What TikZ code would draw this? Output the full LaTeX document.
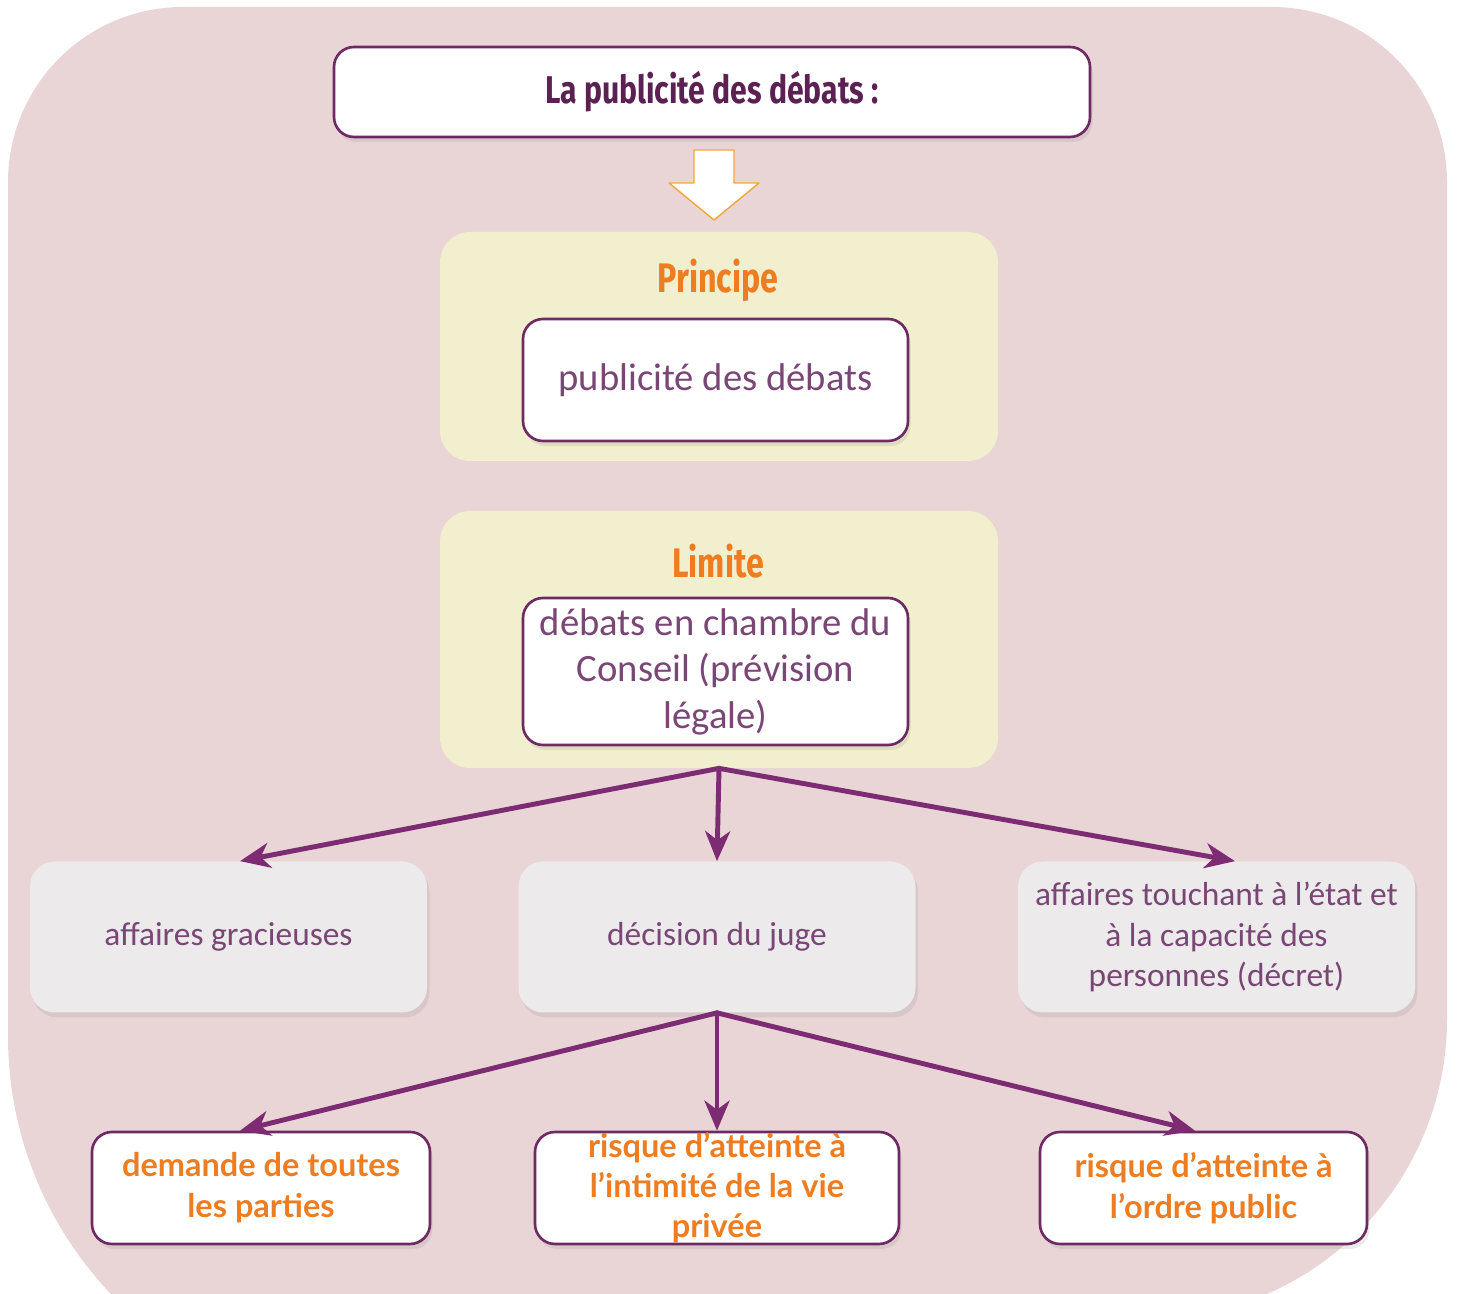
\documentclass[tikz,border=0pt]{standalone}
\usepackage{fontspec}
\setmainfont{Carlito}
\newfontfamily\headfont[FakeStretch=0.78]{Fira Sans}
\newfontfamily\leaffont{Lato}
\usepackage{tikz}
\usetikzlibrary{arrows.meta,calc,shadows}

\definecolor{bgpink}{HTML}{E9D5D6}
\definecolor{panelyellow}{HTML}{F1EFCD}
\definecolor{boxgrey}{HTML}{ECEAEB}
\definecolor{boxpurple}{HTML}{6E2A63}
\definecolor{linkpurple}{HTML}{7D2C74}
\definecolor{titlepurple}{HTML}{5A2152}
\definecolor{textpurple}{HTML}{7A4676}
\definecolor{headorange}{HTML}{EE7D22}
\definecolor{arroworange}{HTML}{F2A63A}

\begin{document}
\begin{tikzpicture}[>=Stealth,line cap=round,line join=round,
    softshadow/.style={drop shadow={opacity=0.16,shadow xshift=0.05cm,shadow yshift=-0.1cm}},
    panel/.style={fill=panelyellow,rounded corners=0.6cm,minimum width=11.16cm},
    framebox/.style={draw=boxpurple,line width=1.5pt,fill=white,rounded corners=0.4cm,
      softshadow,align=center},
    greybox/.style={fill=boxgrey,rounded corners=0.5cm,minimum width=7.94cm,
      minimum height=3.02cm,softshadow,align=center,text=textpurple,
      font=\fontsize{19}{23}\selectfont},
    leafbox/.style={framebox,minimum height=2.24cm,text=headorange,
      font=\leaffont\bfseries\fontsize{18.5}{23.2}\selectfont},
    heading/.style={text=headorange,font=\headfont\bfseries\fontsize{23.5}{28}\selectfont},
    link/.style={->,draw=linkpurple,line width=2.8pt,
      -{Stealth[length=0.6cm,width=0.5cm,inset=0.18cm]}}]
    \clip (0,0) rectangle (29.14,25.88);
    \useasboundingbox (0,0) rectangle (29.14,25.88);

    % The pink ground behind the whole scheme.
    \fill[bgpink] (0.16,22.24) arc[start angle=180,end angle=90,radius=3.5]
      -- (25.44,25.74) arc[start angle=90,end angle=0,radius=3.5]
      -- (28.94,5.5) arc[start angle=0,end angle=-90,radius=6]
      -- (7.66,-2.34) arc[start angle=270,end angle=180,radius=7.5] -- cycle;

    % The title and the hollow arrow under it.
    \node[framebox,minimum width=15.12cm,minimum height=1.8cm,text=titlepurple,
      font=\headfont\bfseries\fontsize{22}{26}\selectfont] (title) at (14.24,24.04)
      {La publicité des débats :};
    \draw[arroworange,fill=white,line width=0.8pt] (13.88,22.88) -- (14.68,22.88)
      -- (14.68,22.22) -- (15.18,22.22) -- (14.28,21.48) -- (13.38,22.22)
      -- (13.88,22.22) -- cycle;

    % The principle.
    \node[panel,minimum height=4.58cm] (principe) at (14.38,18.95) {};
    \node[heading] (principehead) at (14.36,20.28) {Principe};
    \node[framebox,minimum width=7.7cm,minimum height=2.44cm,text=textpurple,
      font=\fontsize{22}{26.5}\selectfont] (principebox) at (14.31,18.28)
      {publicité des débats};

    % The limit.
    \node[panel,minimum height=5.14cm] (limite) at (14.38,13.09) {};
    \node[heading] (limitehead) at (14.36,14.66) {Limite};
    \node[framebox,minimum width=7.7cm,minimum height=2.94cm,text=textpurple,
      font=\fontsize{22}{26.5}\selectfont,inner sep=0pt] (limitebox) at (14.31,12.45)
      {débats en chambre du\\Conseil (prévision\\légale)};

    % The three cases.
    \node[greybox] (gracieuses) at (4.57,7.14) {affaires gracieuses};
    \node[greybox] (juge) at (14.34,7.14) {décision du juge};
    \node[greybox] (etat) at (24.33,7.14)
      {affaires touchant à l’état et\\à la capacité des\\personnes (décret)};

    % The three grounds of the judge.
    \node[leafbox,minimum width=6.76cm] (parties) at (5.22,2.12)
      {demande de toutes\\les parties};
    \node[leafbox,minimum width=7.28cm] (intimite) at (14.34,2.12) {};
    \node[text=headorange,font=\leaffont\bfseries\fontsize{18.5}{22.8}\selectfont,
      align=center] (intimitetext) at (intimite)
      {risque d’atteinte à\\l’intimité de la vie\\privée};
    \node[leafbox,minimum width=6.54cm] (ordre) at (24.07,2.12)
      {risque d’atteinte à\\l’ordre public};

    \draw[link] (limite.south) -- ([xshift=0.23cm]gracieuses.north);
    \draw[link] (limite.south) -- (juge.north);
    \draw[link] (limite.south) -- ([xshift=0.37cm]etat.north);

    \draw[link] (juge.south) -- ([xshift=-0.42cm]parties.north);
    \draw[link] (juge.south) -- (intimite.north);
    \draw[link] (juge.south) -- ([xshift=-0.17cm]ordre.north);
  \end{tikzpicture}
\end{document}
